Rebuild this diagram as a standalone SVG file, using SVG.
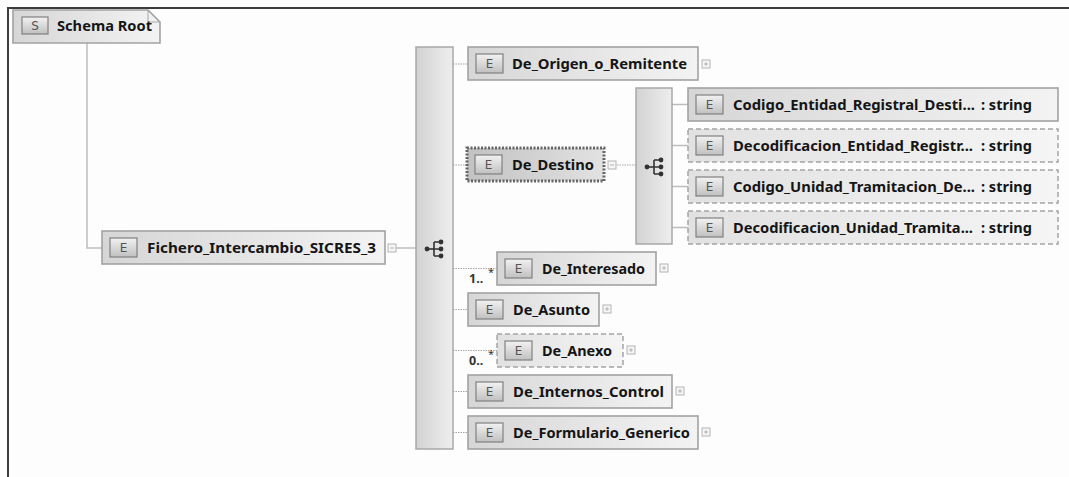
<svg xmlns="http://www.w3.org/2000/svg" width="1069" height="477" viewBox="0 0 1069 477">
<defs>
<linearGradient id="gBox" x1="0" y1="0" x2="1" y2="0"><stop offset="0" stop-color="#d6d6d6"/><stop offset="1" stop-color="#f3f3f3"/></linearGradient>
<linearGradient id="gOpt" x1="0" y1="0" x2="1" y2="0"><stop offset="0" stop-color="#e1e1e1"/><stop offset="1" stop-color="#f5f5f5"/></linearGradient>
<linearGradient id="gSel" x1="0" y1="0" x2="1" y2="0"><stop offset="0" stop-color="#c2c2c2"/><stop offset="1" stop-color="#e2e2e2"/></linearGradient>
<linearGradient id="gSeq" x1="0" y1="0" x2="1" y2="0"><stop offset="0" stop-color="#d2d2d2"/><stop offset="1" stop-color="#eeeeee"/></linearGradient>
<linearGradient id="gBadge" x1="0" y1="0" x2="0" y2="1"><stop offset="0" stop-color="#f2f2f2"/><stop offset="1" stop-color="#c0c0c0"/></linearGradient>
<g id="seqIcon">
<line x1="-8" y1="0" x2="-1" y2="0" stroke="#333" stroke-width="1.6"/>
<path d="M-1,-7 V7 M-1,-7 H6 M-1,0 H6 M-1,7 H6" stroke="#333" stroke-width="1.6" fill="none"/>
<circle cx="-8" cy="0" r="2.4" fill="#333"/>
<circle cx="6" cy="-7" r="2.4" fill="#333"/>
<circle cx="6" cy="0" r="2.4" fill="#333"/>
<circle cx="6" cy="7" r="2.4" fill="#333"/>
</g>
<g id="plus"><rect x="0" y="0" width="8" height="8" fill="#f6f6f6" stroke="#b4b4b4" stroke-width="1"/><path d="M2,4 H6 M4,2 V6" stroke="#b4b4b4" stroke-width="1"/></g>
<g id="minus"><rect x="0" y="0" width="8" height="8" fill="#f6f6f6" stroke="#b4b4b4" stroke-width="1"/><path d="M2,4 H6" stroke="#b4b4b4" stroke-width="1"/></g>
</defs>
<style>
.box{fill:url(#gBox);stroke:#a2a2a2;stroke-width:1.6}
.opt{fill:url(#gOpt);stroke:#a4a4a4;stroke-width:1.5;stroke-dasharray:5 3}
.sel{fill:url(#gSel);stroke:#666;stroke-width:3;stroke-dasharray:2 1.5}
.badge{fill:url(#gBadge);stroke:#808080;stroke-width:1.2}
.bt{font-family:"DejaVu Sans","Liberation Sans",sans-serif;font-size:12px;fill:#555;text-anchor:middle}
.lbl{font-family:"Noto Sans","Liberation Sans",sans-serif;font-weight:bold;font-size:14.5px;fill:#151515}
.mult{font-family:"Noto Sans","Liberation Sans",sans-serif;font-weight:bold;font-size:12.5px;fill:#333}
.star{font-family:"Noto Sans","Liberation Sans",sans-serif;font-size:11px;fill:#333}
.seq{fill:url(#gSeq);stroke:#a8a8a8;stroke-width:1.5}
.dot{stroke:#a8a8a8;stroke-width:1.2;stroke-dasharray:1.5 1;fill:none}
.solid{stroke:#bdbdbd;stroke-width:1.5;fill:none}
</style>
<rect x="0" y="0" width="1069" height="477" fill="#fdfdfd"/>
<path d="M8,477 V8 H1069" fill="none" stroke="#3c3c3c" stroke-width="2"/>

<g id="connectors">
<path class="solid" d="M87,43 V248 H102"/>
<path class="solid" d="M396,248 H416"/>
<path class="dot" d="M453,64 H468"/>
<path class="dot" d="M453,165 H467"/>
<path class="dot" d="M453,268.5 H497"/>
<path class="dot" d="M453,309.5 H468"/>
<path class="dot" d="M453,350.5 H497"/>
<path class="dot" d="M453,391.5 H468"/>
<path class="dot" d="M453,432.5 H468"/>
<path class="dot" d="M617,165 H636"/>
<path class="solid" d="M672,104.5 H688"/>
<path class="solid" d="M672,145.5 H688"/>
<path class="solid" d="M672,186.5 H688"/>
<path class="solid" d="M672,227.5 H688"/>
<text class="mult" x="469" y="283">1..</text><text class="star" x="488" y="276">*</text>
<text class="mult" x="469" y="365">0..</text><text class="star" x="488" y="358">*</text>
</g>

<g id="schema-root">
<path class="box" d="M13,10 H148 L160,22 V43 H13 Z"/>
<path d="M148,10 V22 H160" fill="none" stroke="#a6a6a6" stroke-width="1"/>
<rect class="badge" x="22" y="17" width="26" height="17"/>
<text class="bt" x="35" y="30">S</text>
<text class="lbl" x="57" y="31" textLength="95" lengthAdjust="spacingAndGlyphs">Schema Root</text>
</g>

<g id="fichero">
<rect class="box" x="102" y="231" width="283" height="33"/>
<rect class="badge" x="110" y="238" width="27" height="19"/>
<text class="bt" x="123.5" y="252">E</text>
<text class="lbl" x="147" y="253" textLength="229" lengthAdjust="spacingAndGlyphs">Fichero_Intercambio_SICRES_3</text>
<use href="#minus" x="388" y="244"/>
</g>

<g id="seq1">
<rect class="seq" x="416" y="47" width="37" height="402"/>
<use href="#seqIcon" x="435" y="249"/>
</g>

<g id="de-origen">
<rect class="box" x="468" y="47" width="230" height="33"/>
<rect class="badge" x="476" y="54" width="27" height="19"/>
<text class="bt" x="489.5" y="68">E</text>
<text class="lbl" x="512" y="69" textLength="175" lengthAdjust="spacingAndGlyphs">De_Origen_o_Remitente</text>
<use href="#plus" x="702" y="60"/>
</g>

<g id="de-destino">
<rect class="sel" x="467" y="148" width="137" height="33"/>
<rect class="badge" x="475" y="155" width="27" height="19"/>
<text class="bt" x="488.5" y="169">E</text>
<text class="lbl" x="512" y="170" textLength="82" lengthAdjust="spacingAndGlyphs">De_Destino</text>
<use href="#minus" x="608" y="161"/>
</g>

<g id="seq2">
<rect class="seq" x="636" y="88" width="36" height="156"/>
<use href="#seqIcon" x="655" y="167"/>
</g>

<g id="codigo-entidad">
<rect class="box" x="688" y="88" width="370" height="33"/>
<rect class="badge" x="696" y="95" width="27" height="19"/>
<text class="bt" x="709.5" y="109">E</text>
<text class="lbl" x="733" y="110" textLength="242" lengthAdjust="spacingAndGlyphs">Codigo_Entidad_Registral_Desti...</text>
<text class="lbl" x="981" y="110" textLength="51" lengthAdjust="spacingAndGlyphs">: string</text>
</g>

<g id="decodificacion-entidad">
<rect class="opt" x="688" y="129" width="370" height="33"/>
<rect class="badge" x="696" y="136" width="27" height="19"/>
<text class="bt" x="709.5" y="150">E</text>
<text class="lbl" x="733" y="151" textLength="240" lengthAdjust="spacingAndGlyphs">Decodificacion_Entidad_Registr...</text>
<text class="lbl" x="981" y="151" textLength="51" lengthAdjust="spacingAndGlyphs">: string</text>
</g>

<g id="codigo-unidad">
<rect class="opt" x="688" y="170" width="370" height="33"/>
<rect class="badge" x="696" y="177" width="27" height="19"/>
<text class="bt" x="709.5" y="191">E</text>
<text class="lbl" x="733" y="192" textLength="242" lengthAdjust="spacingAndGlyphs">Codigo_Unidad_Tramitacion_De...</text>
<text class="lbl" x="981" y="192" textLength="51" lengthAdjust="spacingAndGlyphs">: string</text>
</g>

<g id="decodificacion-unidad">
<rect class="opt" x="688" y="211" width="370" height="33"/>
<rect class="badge" x="696" y="218" width="27" height="19"/>
<text class="bt" x="709.5" y="232">E</text>
<text class="lbl" x="733" y="233" textLength="240" lengthAdjust="spacingAndGlyphs">Decodificacion_Unidad_Tramita...</text>
<text class="lbl" x="981" y="233" textLength="51" lengthAdjust="spacingAndGlyphs">: string</text>
</g>

<g id="de-interesado">
<rect class="box" x="497" y="252" width="159" height="33"/>
<rect class="badge" x="505" y="259" width="27" height="19"/>
<text class="bt" x="518.5" y="273">E</text>
<text class="lbl" x="542" y="274" textLength="103" lengthAdjust="spacingAndGlyphs">De_Interesado</text>
<use href="#plus" x="660" y="264"/>
</g>

<g id="de-asunto">
<rect class="box" x="468" y="293" width="131" height="33"/>
<rect class="badge" x="476" y="300" width="27" height="19"/>
<text class="bt" x="489.5" y="314">E</text>
<text class="lbl" x="513" y="315" textLength="77" lengthAdjust="spacingAndGlyphs">De_Asunto</text>
<use href="#plus" x="603" y="305"/>
</g>

<g id="de-anexo">
<rect class="opt" x="497" y="334" width="126" height="33"/>
<rect class="badge" x="505" y="341" width="27" height="19"/>
<text class="bt" x="518.5" y="355">E</text>
<text class="lbl" x="542" y="356" textLength="70" lengthAdjust="spacingAndGlyphs">De_Anexo</text>
<use href="#plus" x="627" y="346"/>
</g>

<g id="de-internos-control">
<rect class="box" x="468" y="375" width="204" height="33"/>
<rect class="badge" x="476" y="382" width="27" height="19"/>
<text class="bt" x="489.5" y="396">E</text>
<text class="lbl" x="513" y="397" textLength="151" lengthAdjust="spacingAndGlyphs">De_Internos_Control</text>
<use href="#plus" x="676" y="387"/>
</g>

<g id="de-formulario-generico">
<rect class="box" x="468" y="416" width="230" height="33"/>
<rect class="badge" x="476" y="423" width="27" height="19"/>
<text class="bt" x="489.5" y="437">E</text>
<text class="lbl" x="513" y="438" textLength="177" lengthAdjust="spacingAndGlyphs">De_Formulario_Generico</text>
<use href="#plus" x="702" y="428"/>
</g>
</svg>
